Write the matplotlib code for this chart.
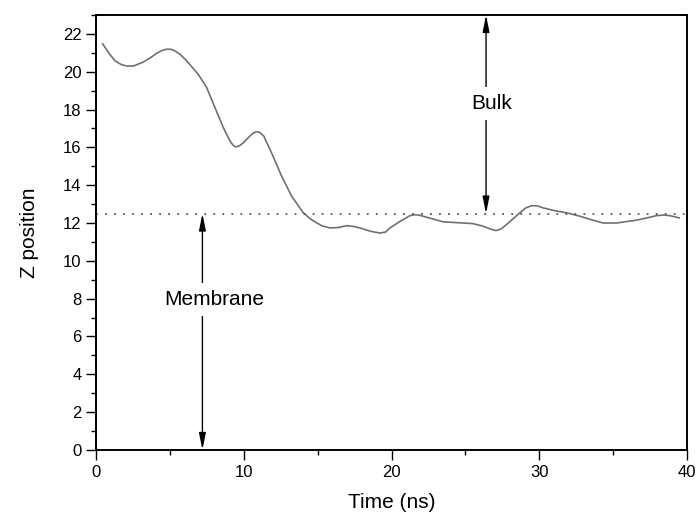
import matplotlib
matplotlib.use("Agg")
import matplotlib.pyplot as plt
from matplotlib.ticker import MultipleLocator

plt.rcParams['font.family'] = ['Liberation Sans', 'DejaVu Sans']

# z position of the molecule over time
time_ns = [0.45, 0.9, 1.29, 1.7, 2.08, 2.53, 3.2, 3.7, 4.1, 4.45, 4.78, 5.1, 5.35,
           5.75, 6.14, 6.92, 7.49, 8.05, 8.62, 9.07, 9.27, 9.45, 9.7, 9.97, 10.42,
           10.65, 10.87, 11.1, 11.35, 11.88, 12.56, 13.24, 14.03, 14.5, 14.93, 15.3,
           15.83, 16.4, 16.96, 17.4, 17.86, 18.6, 19.2, 19.6, 19.9, 20.5, 21.25,
           21.6, 21.9, 22.5, 23.5, 24.85, 25.5, 26.2, 26.7, 27.06, 27.4, 27.79,
           28.69, 29.1, 29.48, 29.9, 30.26, 31.0, 31.85, 32.75, 33.5, 34.32, 35.23,
           36.58, 37.3, 37.94, 38.4, 38.84, 39.47]
z_pos = [21.47, 20.95, 20.57, 20.38, 20.30, 20.30, 20.51, 20.75, 20.97, 21.12, 21.19,
         21.18, 21.1, 20.88, 20.57, 19.86, 19.16, 18.1, 17.04, 16.33, 16.12, 16.02,
         16.08, 16.24, 16.6, 16.76, 16.83, 16.78, 16.6, 15.71, 14.48, 13.42, 12.54,
         12.22, 12.01, 11.85, 11.74, 11.76, 11.86, 11.82, 11.74, 11.56, 11.47, 11.52,
         11.74, 12.05, 12.39, 12.44, 12.41, 12.28, 12.06, 12.0, 11.97, 11.83, 11.68,
         11.6, 11.68, 11.92, 12.54, 12.8, 12.92, 12.9, 12.8, 12.66, 12.54, 12.36,
         12.18, 12.0, 12.0, 12.15, 12.27, 12.39, 12.42, 12.39, 12.27]

boundary = 12.5
membrane_x, bulk_x = 7.2, 26.4
y_max = 23

fig = plt.figure(figsize=(6.96, 5.16), dpi=100)
ax = fig.add_axes([0.138, 0.128, 0.849, 0.843])

ax.plot(time_ns, z_pos, color='#707070', lw=1.2, solid_joinstyle='round')
ax.axhline(boundary, color='#555555', lw=1.3, ls=(0, (1, 4)))

arrow = dict(arrowstyle='<|-|>,head_length=1.0,head_width=0.2', color='black',
             lw=1.0, shrinkA=0, shrinkB=0)
ax.annotate('', xy=(membrane_x, boundary), xytext=(membrane_x, 0), arrowprops=arrow)
ax.annotate('', xy=(bulk_x, y_max), xytext=(bulk_x, boundary), arrowprops=arrow)

box = dict(facecolor='white', edgecolor='none', pad=5)
ax.text(8.0, 7.95, 'Membrane', ha='center', va='center', fontsize=15, bbox=box)
ax.text(26.8, 18.3, 'Bulk', ha='center', va='center', fontsize=15, bbox=box)

ax.set_xlim(0, 40)
ax.set_ylim(0, y_max)
ax.xaxis.set_major_locator(MultipleLocator(10))
ax.xaxis.set_minor_locator(MultipleLocator(5))
ax.yaxis.set_major_locator(MultipleLocator(2))
ax.yaxis.set_minor_locator(MultipleLocator(1))
ax.tick_params(which='both', direction='out', top=False, right=False,
               labelsize=12, width=1.0)
ax.tick_params(which='major', length=7)
ax.tick_params(which='minor', length=3.5)
for s in ax.spines.values():
    s.set_linewidth(1.4)

ax.set_xlabel('Time (ns)', fontsize=15, labelpad=10)
ax.set_ylabel('Z position', fontsize=15, labelpad=17)

fig.savefig('out.png', dpi=100)
